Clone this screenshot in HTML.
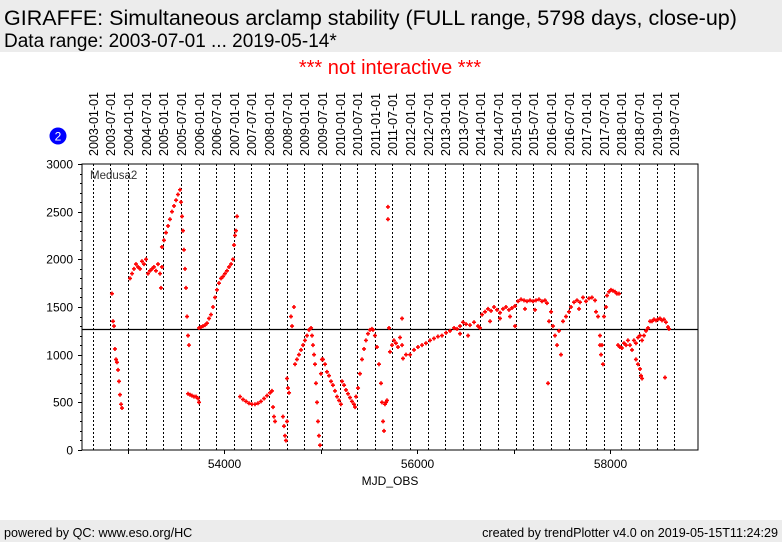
<!DOCTYPE html>
<html><head><meta charset="utf-8"><style>
body{margin:0;width:782px;height:542px;background:#fff;overflow:hidden;font-family:"Liberation Sans",sans-serif}
svg{position:absolute;left:0;top:0}
</style></head><body>
<svg id="chart" width="782" height="542" font-family="Liberation Sans, sans-serif">
<rect x="0" y="0" width="782" height="52" fill="#ececec"/>
<text x="4" y="25" font-size="21.5" fill="#000">GIRAFFE: Simultaneous arclamp stability (FULL range, 5798 days, close-up)</text>
<text x="4" y="47" font-size="19" fill="#000">Data range: 2003-07-01 ... 2019-05-14*</text>
<text x="390" y="74" font-size="20" fill="#f00" text-anchor="middle">*** not interactive ***</text>
<circle cx="58" cy="136" r="8.5" fill="#00f"/>
<text x="58" y="140.5" font-size="12" fill="#fff" text-anchor="middle">2</text>
<g id="dategrid"></g>
<g id="axes"></g>
<g id="marks"></g>
<rect x="82" y="164" width="616" height="286" fill="none" stroke="#000" stroke-width="1"/>
<text x="90" y="179" font-size="11.5" fill="#333">Medusa2</text>
<text x="390" y="485" font-size="12" text-anchor="middle">MJD_OBS</text>
<rect x="0" y="520" width="782" height="22" fill="#ececec"/>
<text x="4" y="537" font-size="12.6">powered by QC: www.eso.org/HC</text>
<text x="778" y="537" font-size="12.6" text-anchor="end">created by trendPlotter v4.0 on 2019-05-15T11:24:29</text>
</svg>
<script>
const dateLabels=["2003-01-01","2003-07-01","2004-01-01","2004-07-01","2005-01-01","2005-07-01","2006-01-01","2006-07-01","2007-01-01","2007-07-01","2008-01-01","2008-07-01","2009-01-01","2009-07-01","2010-01-01","2010-07-01","2011-01-01","2011-07-01","2012-01-01","2012-07-01","2013-01-01","2013-07-01","2014-01-01","2014-07-01","2015-01-01","2015-07-01","2016-01-01","2016-07-01","2017-01-01","2017-07-01","2018-01-01","2018-07-01","2019-01-01","2019-07-01"];
const dateMJD=[52640,52821,53005,53187,53371,53552,53736,53917,54101,54282,54466,54648,54832,55013,55197,55378,55562,55743,55927,56109,56293,56474,56658,56839,57023,57204,57388,57570,57754,57935,58119,58300,58484,58665];
const yTicks=[0,500,1000,1500,2000,2500,3000];
const xTicks=[53000,54000,55000,56000,57000,58000];
const xTickLabels=["","54000","","56000","","58000"];
const refLevel=1270;
const mjd=[52839,52850,52860,52870,52881,52891,52902,52912,52922,52933,52943,
53026,53047,53067,53088,53109,53130,53150,53171,53192,53212,53233,53254,53274,53295,53316,53337,53347,53357,
53357,53378,53399,53420,53440,53461,53482,53503,53523,53544,53554,53565,53575,53585,53596,53606,53617,53627,53637,
53627,53648,53668,53689,53710,53731,53741,
53741,53762,53782,53803,53824,53845,53865,53886,53907,53927,53948,53969,53990,54010,54031,54052,54073,54093,54104,54114,54124,54135,
54166,54197,54228,54259,54290,54321,54352,54383,54415,54446,54477,54497,54508,54518,54529,
54611,54622,54632,54642,54653,54653,54663,54674,54694,54705,54725,
54736,54756,54777,54798,54819,54839,54860,54881,54902,54912,54922,54933,
54943,54953,54964,54974,54984,54995,55005,55015,
55026,55047,55067,55088,55109,55129,55150,55171,55192,55212,
55223,55244,55264,55285,55306,55326,55347,55358,
55368,55389,55409,55430,55451,55471,55492,55513,55533,
55544,55564,55585,55606,55627,55637,55648,55658,
55668,55679,55689,55699,55699,55710,
55720,55741,55761,55782,55803,55824,55845,55845,
55855,55886,55928,55969,56010,56052,56093,56135,56176,56217,56259,56301,56342,56384,56415,
56446,56477,56508,56549,56591,56632,56653,56446,56529,
56674,56705,56736,56767,56798,56829,56860,56891,56922,56953,56984,57016,56757,56860,56964,
57047,57078,57109,57140,57171,57202,57233,57264,57295,57326,57347,57119,57223,57016,
57368,57389,57409,57430,57451,57471,57492,57513,57544,57575,57358,
57596,57627,57658,57689,57720,57751,57782,57813,57845,57679,
57855,57876,57896,57907,57917,57927,57938,57959,57896,
57969,57990,58010,58031,58052,58072,58093,
58083,58103,58124,58145,58166,58186,58207,58228,58248,58269,58290,58311,58332,58352,58373,58394,58415,58269,58290,58311,58321,58332,
58435,58456,58477,58497,58518,58539,58559,58580,58601,58611,58570];
const val=[1640,1350,1300,1060,950,920,840,720,580,480,440,
1800,1850,1900,1950,1920,1900,1980,1950,2000,1850,1880,1900,1920,1880,1950,1850,1700,1920,
2130,2200,2280,2350,2420,2500,2560,2620,2680,2730,2600,2450,2300,2100,1900,1700,1400,1200,1100,
590,580,570,560,560,540,500,
1280,1290,1300,1310,1330,1380,1420,1500,1600,1680,1750,1800,1820,1850,1880,1920,1950,2000,2150,2250,2300,2450,
560,530,510,490,480,480,490,510,540,570,600,620,450,350,300,
350,250,150,100,300,750,650,600,1400,1300,1500,
900,950,1000,1050,1100,1150,1200,1260,1280,1200,1100,1000,
900,700,500,300,150,50,800,950,
950,900,820,780,720,680,620,560,520,480,
720,680,630,590,550,510,480,450,
560,650,800,950,1060,1150,1220,1260,1270,
1260,1200,1080,900,700,500,300,200,
480,500,520,2550,2420,1280,
1030,1100,1150,1120,1080,1180,1100,1380,
960,1000,1000,1050,1080,1100,1120,1150,1170,1190,1200,1230,1250,1280,1270,
1300,1340,1320,1310,1340,1300,1280,1220,1200,
1420,1450,1480,1460,1500,1470,1440,1480,1500,1470,1490,1510,1350,1380,1400,
1560,1580,1570,1560,1570,1560,1570,1580,1560,1570,1540,1480,1470,1300,
1350,1450,1300,1200,1100,1250,1000,1350,1400,1450,700,
1500,1550,1570,1550,1600,1560,1590,1600,1570,1480,
1450,1400,1200,1000,1100,900,1400,1500,1100,
1620,1660,1680,1670,1660,1640,1640,
1100,1080,1070,1120,1100,1150,1100,1050,1150,1120,1180,1200,1150,1200,1250,1280,1350,950,900,850,780,750,
1350,1370,1360,1370,1380,1360,1370,1340,1290,1270,760];

const NS="http://www.w3.org/2000/svg";
const X0=82,X1=698,Y0=164,Y1=450;
function xs(m){return 224+(m-54000)*0.0965;}
function ys(v){return Y1-v*(Y1-Y0)/3000;}
function mk(tag,attrs,parent){const e=document.createElementNS(NS,tag);for(const k in attrs)e.setAttribute(k,attrs[k]);parent.appendChild(e);return e;}

const dg=document.getElementById('dategrid');
dateMJD.forEach((m,i)=>{
  const x=Math.round(xs(m))+0.5;
  const l=mk('line',{x1:x,x2:x,y1:Y0,y2:Y1,stroke:'#000','stroke-width':1,'stroke-dasharray':'2,2'},dg);
  
  
  const t=mk('text',{x:0,y:0,'font-size':12.5,transform:`translate(${x+4.5},156) rotate(-90)`},dg);
  
  
  t.textContent=dateLabels[i];
});

const ax=document.getElementById('axes');
yTicks.forEach(v=>{
  const y=Math.round(ys(v))+0.5;
  const l=mk('line',{x1:X0-4,x2:X0,y1:y,y2:y,stroke:'#000'},ax);
  
  
  const t=mk('text',{x:X0-9,y:y+4,'font-size':12,'text-anchor':'end'},ax);
  
  
  t.textContent=v;
});
for(let v=100;v<3000;v+=100){if(v%500===0)continue;const y=Math.round(ys(v))+0.5;
  const l=mk('line',{x1:X0-2,x2:X0,y1:y,y2:y,stroke:'#000'},ax);
  
  }
xTicks.forEach((m,i)=>{
  const x=Math.round(xs(m))+0.5;
  const l=mk('line',{x1:x,x2:x,y1:Y1,y2:Y1+4,stroke:'#000'},ax);
  
  
  if(xTickLabels[i]){
    const t=mk('text',{x:x,y:Y1+18,'font-size':12,'text-anchor':'middle'},ax);
    
    
    t.textContent=xTickLabels[i];
  }
});
const ry=Math.round(ys(refLevel))+0.5;
const rl=mk('line',{x1:X0,x2:X1,y1:ry,y2:ry,stroke:'#000','stroke-width':1.2},ax);



const mg=document.getElementById('marks');
mjd.forEach((m,i)=>{
  const x=xs(m),y=ys(val[i]);
  const p=mk('path',{d:`M${x-2},${y}H${x+2}M${x},${y-2}V${y+2}`,stroke:'#f00','stroke-width':1.6,fill:'none'},mg);
  
  
});
</script>
</body></html>
